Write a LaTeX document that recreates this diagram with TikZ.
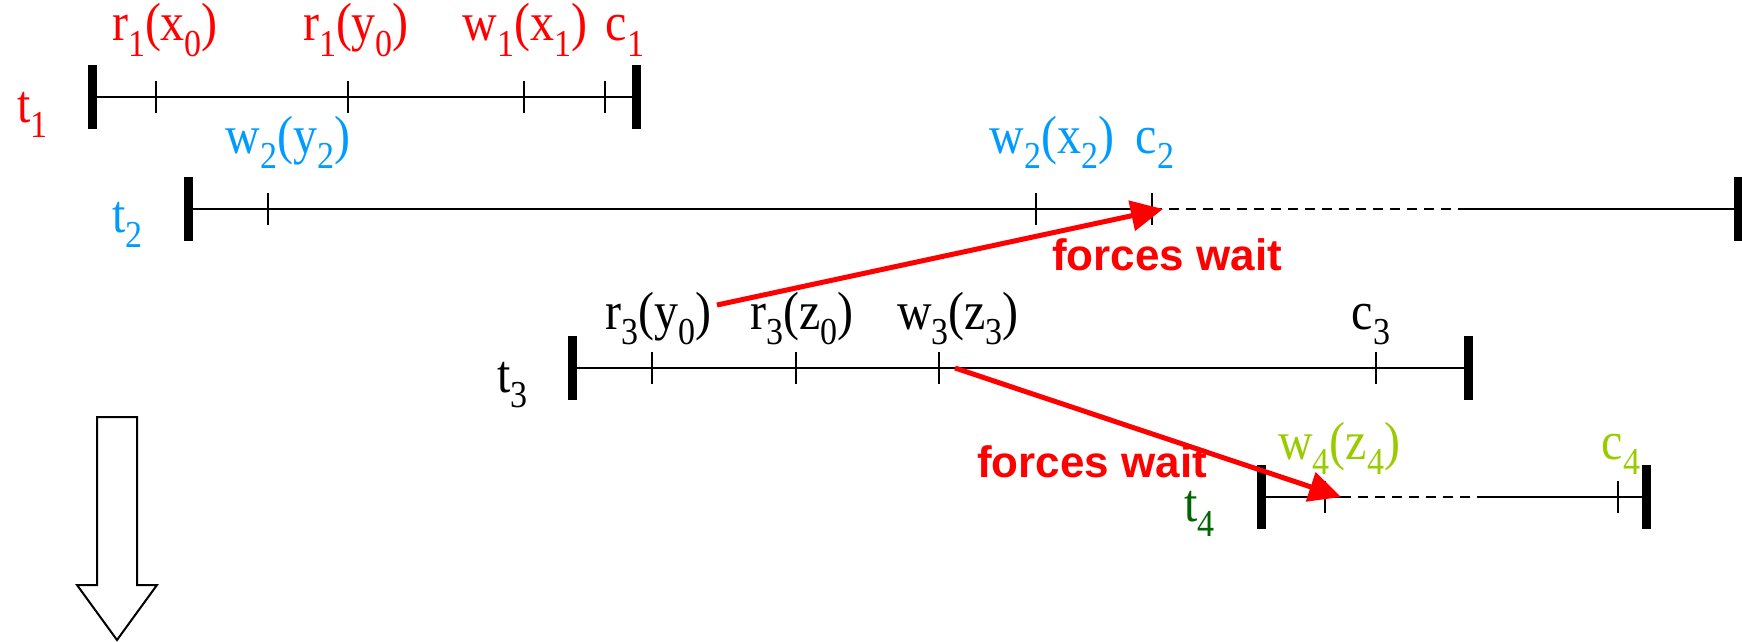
\documentclass[tikz,border=0pt]{standalone}
\usepackage{graphicx}
\usepackage{fontspec}
\setmainfont{Liberation Serif}
\newfontfamily\labelsans{Liberation Sans}
\usetikzlibrary{arrows.meta}
\definecolor{tred}{RGB}{255,0,0}
\definecolor{tblue}{RGB}{0,155,255}
\definecolor{tlime}{RGB}{153,204,0}
\definecolor{tgreen}{RGB}{0,100,0}
\newcommand\sbx[1]{\raisebox{-14pt}{\fontsize{34pt}{34pt}\selectfont #1}}
\newcommand\tl[1]{\scalebox{1}[1.12]{#1}}
\begin{document}
\begin{tikzpicture}[x=1pt,y=-1pt,
  lbl/.style={inner sep=0pt, anchor=base, font=\fontsize{48pt}{48pt}\selectfont},
  tname/.style={inner sep=0pt, anchor=base west, font=\fontsize{48pt}{48pt}\selectfont},
  tline/.style={line width=2pt},
  tdash/.style={line width=2pt, dash pattern=on 10pt off 7pt},
  endbar/.style={line width=9pt},
  tickmark/.style={line width=2pt},
  waitarrow/.style={draw=tred, line width=5pt, -{Triangle[length=32pt, width=30pt]}},
  waitlbl/.style={inner sep=0pt, anchor=base west, text=tred, font=\labelsans\bfseries\fontsize{44pt}{44pt}\selectfont},
  blockarrow/.style={draw, line width=2pt, fill=white}]
\useasboundingbox (0,0) rectangle (1742,642);

% ---- timeline ends
\coordinate (t1s) at (92,97);   \coordinate (t1e) at (636,97);
\coordinate (t2s) at (188,209); \coordinate (t2e) at (1738,209);
\coordinate (t3s) at (572,368); \coordinate (t3e) at (1468,368);
\coordinate (t4s) at (1261,497); \coordinate (t4e) at (1646,497);
\coordinate (t2d) at (1460,209);
\coordinate (t4d) at (1341,497); \coordinate (t4f) at (1486,497);

% ---- ticks
\foreach \n/\x/\y in {t1a/156/97, t1b/348/97, t1c/524/97, t1d/605/97,
                      t2a/268/209, t2b/1036/209, t2c/1152/209,
                      t3a/652/368, t3b/796/368, t3c/939/368, t3d/1376/368,
                      t4a/1325/497, t4b/1618/497} {
  \coordinate (\n) at (\x,\y);
  \draw[tickmark] ([yshift=16pt]\n) -- ([yshift=-16pt]\n);
}

% ---- timeline lines
\draw[tline] (t1s) -- (t1e);
\draw[tline] (t2s) -- (t2c);
\draw[tdash] (t2c) -- (t2d);
\draw[tline] (t2d) -- (t2e);
\draw[tline] (t3s) -- (t3e);
\draw[tline] (t4s) -- (t4d);
\draw[tdash] (t4d) -- (t4f);
\draw[tline] (t4f) -- (t4e);

% ---- end bars
\foreach \n in {t1s,t1e,t2s,t2e,t3s,t3e,t4s,t4e} {
  \draw[endbar] ([yshift=32pt]\n) -- ([yshift=-32pt]\n);
}

% ---- transaction names
\node[tname, text=tred]   (n1) at (17,122)   {\tl{t\sbx{1}}};
\node[tname, text=tblue]  (n2) at (112,232)  {\tl{t\sbx{2}}};
\node[tname]              (n3) at (497,392)  {\tl{t\sbx{3}}};
\node[tname, text=tgreen] (n4) at (1184,521) {\tl{t\sbx{4}}};

% ---- operation labels
\node[lbl, text=tred] (l1a) at (165,41)  {\tl{r\sbx{1}(x\sbx{0})}};
\node[lbl, text=tred] (l1b) at (356,41)  {\tl{r\sbx{1}(y\sbx{0})}};
\node[lbl, text=tred] (l1c) at (525,41)  {\tl{w\sbx{1}(x\sbx{1})}};
\node[lbl, text=tred] (l1d) at (625,41)  {\tl{c\sbx{1}}};

\node[lbl, text=tblue] (l2a) at (288,153)  {\tl{w\sbx{2}(y\sbx{2})}};
\node[lbl, text=tblue] (l2b) at (1052,153) {\tl{w\sbx{2}(x\sbx{2})}};
\node[lbl, text=tblue] (l2c) at (1155,153) {\tl{c\sbx{2}}};

\node[lbl] (l3a) at (658,329)  {\tl{r\sbx{3}(y\sbx{0})}};
\node[lbl] (l3b) at (802,329)  {\tl{r\sbx{3}(z\sbx{0})}};
\node[lbl] (l3c) at (958,329)  {\tl{w\sbx{3}(z\sbx{3})}};
\node[lbl] (l3d) at (1371,329) {\tl{c\sbx{3}}};

\node[lbl, text=tlime] (l4a) at (1339,459) {\tl{w\sbx{4}(z\sbx{4})}};
\node[lbl, text=tlime] (l4b) at (1621,459) {\tl{c\sbx{4}}};

% ---- forces wait arrows
\coordinate (a1s) at (717,305); \coordinate (a1e) at (1163,209);
\coordinate (a2s) at (955,368); \coordinate (a2e) at (1341,497);
\draw[waitarrow] (a1s) -- (a1e);
\draw[waitarrow] (a2s) -- (a2e);
\node[waitlbl] (w1) at (1052,270) {forces wait};
\node[waitlbl] (w2) at (977,477)  {forces wait};

% ---- time direction block arrow
\draw[blockarrow] (97,417) -- (137,417) -- (137,585) -- (157,585) -- (117,640)
  -- (77,585) -- (97,585) -- cycle;
\end{tikzpicture}
\end{document}
